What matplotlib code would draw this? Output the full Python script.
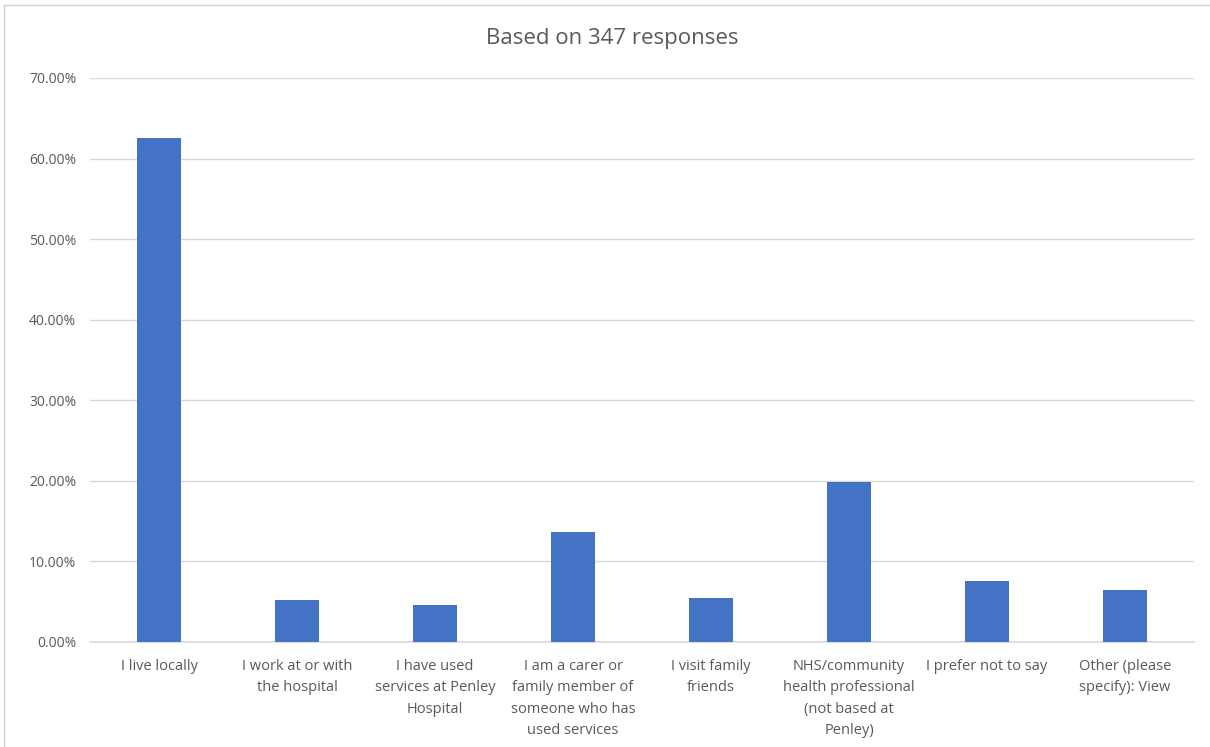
import numpy as np
import matplotlib.pyplot as plt
from matplotlib.patches import Rectangle

plt.rcParams['font.family'] = ['Open Sans', 'DejaVu Sans']

# 응답 카테고리와 비율
categories = [
    "I live locally",
    "I work at or with\nthe hospital",
    "I have used\nservices at Penley\nHospital",
    "I am a carer or\nfamily member of\nsomeone who has\nused services",
    "I visit family\nfriends",
    "NHS/community\nhealth professional\n(not based at\nPenley)",
    "I prefer not to say",
    "Other (please\nspecify): View",
]
values = [62.55, 5.22, 4.64, 13.68, 5.45, 19.88, 7.6, 6.4]
yticks = [0, 10, 20, 30, 40, 50, 60, 70]

text_col = '#595959'
grid_col = '#d9d9d9'

fig = plt.figure(figsize=(12.1, 7.47), dpi=100)
ax = fig.add_axes([0.0744, 0.1406, 0.9124, 0.755])

x = np.arange(len(categories))
ax.bar(x, values, width=0.32, color='#4472c4', zorder=3)

ax.set_xlim(-0.5, len(categories) - 0.5)
ax.set_ylim(0, 70)
ax.set_yticks(yticks)
ax.set_yticklabels(["%.2f%%" % v for v in yticks], color=text_col, fontsize=10)
ax.set_xticks(x)
ax.set_xticklabels(categories, color=text_col, fontsize=10.5, linespacing=1.6, va='top')
ax.tick_params(axis='x', length=0, pad=12)
ax.tick_params(axis='y', length=0, pad=10)

ax.grid(axis='y', color=grid_col, linewidth=1, zorder=0)
for s in ['top', 'right', 'left']:
    ax.spines[s].set_visible(False)
ax.spines['bottom'].set_color(grid_col)
ax.spines['bottom'].set_linewidth(1.2)

fig.text(0.506, 0.949, "Based on 347 responses", ha='center', va='center',
         color=text_col, fontsize=16)

# 차트 외곽 테두리
fig.patches.append(Rectangle((0.003, -0.1), 1.2, 1.093, transform=fig.transFigure,
                             fill=False, edgecolor='#d0d0d0', linewidth=1))

plt.savefig('out.png', dpi=100)
